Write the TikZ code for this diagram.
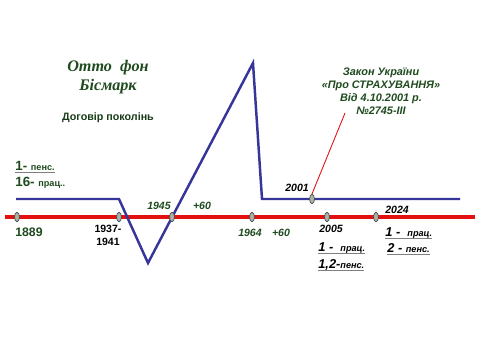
\documentclass[tikz,border=0pt]{standalone}
\usepackage{fontspec}
\setmainfont{Liberation Sans}
\newfontfamily\bisfont{Liberation Serif}
\usepackage{xcolor}
\definecolor{lineblue}{HTML}{35359A}
\definecolor{axisred}{HTML}{E31010}
\definecolor{darkgreen}{HTML}{1E4A1E}
\definecolor{ulgray}{HTML}{7F7F7F}
\definecolor{markfill}{HTML}{A8B4A8}
\usetikzlibrary{shapes.geometric, positioning, calc}
\newcommand{\gul}[1]{\setbox0\hbox{#1}\rlap{\color{ulgray}\rule[-1.6pt]{\wd0}{0.7pt}}\box0}

\begin{document}
\begin{tikzpicture}[x=0.02cm, y=-0.02cm]
  \tikzstyle{yearmark}=[ellipse, draw=black!70, fill=markfill, line width=0.4pt,
    minimum width=2.8pt, minimum height=5.4pt, inner sep=0pt]
  \tikzstyle{yeartxt}=[font=\fontsize{6}{7}\selectfont\bfseries\itshape, inner sep=0pt]
  \tikzstyle{ratiotxt}=[font=\bfseries, inner sep=0pt, anchor=west]
  \useasboundingbox (0,0) rectangle (480,360);
  % time axis
  \draw[axisred, line width=2.2pt] (5,217) coordinate (axl) -- (475,217) coordinate (axr);
  % pension curve
  \draw[lineblue, line width=1.4pt] (16,199) -- (119,199) -- (148,263) -- (253,63)
    -- (262,199) -- (460,199);
  \node[yearmark] (m1889) at (17,217) {};
  \node[yearmark] (m1937) at (119,217) {};
  \node[yearmark] (m1945) at (172,217) {};
  \node[yearmark] (m1964) at (252,217) {};
  \node[yearmark] (m2005) at (327,217) {};
  \node[yearmark] (m2024) at (376,217) {};
  % titles
  \node[font=\bisfont\fontsize{9.2}{10.6}\selectfont\bfseries\itshape, text=darkgreen,
    align=center, inner sep=0pt] (bismarck) at (108,77) {Отто\ \ фон\\Бісмарк};
  \node[font=\fontsize{6.1}{7}\selectfont\bfseries, text=darkgreen!80!black,
    inner sep=0pt] (dogovir) at (108,118) {Договір поколінь};
  \node[font=\fontsize{6.2}{7.4}\selectfont\bfseries\itshape, text=darkgreen,
    align=center, inner sep=0pt] (law) at (381,91)
    {Закон України\\«Про СТРАХУВАННЯ»\\Від 4.10.2001 р.\\№2745-III};
  \coordinate (lawtip) at (345,113);
  \node[yearmark] (m2001) at (312,199) {};
  \draw[axisred, line width=0.5pt] (m2001.north) -- (lawtip);
  % left ratio
  \node[ratiotxt, text=darkgreen] (r1pens) at (15,167)
    {\gul{\fontsize{7.6}{9}\selectfont 1- {\fontsize{5.2}{6}\selectfont пенс.}}};
  \node[ratiotxt, text=darkgreen] (r16prac) at (15,183)
    {\fontsize{7.6}{9}\selectfont 16- {\fontsize{5.2}{6}\selectfont прац..}};
  % years
  \node[font=\fontsize{7}{8}\selectfont\bfseries, text=darkgreen, inner sep=0pt]
    (y1889) at (29,232) {1889};
  \node[font=\fontsize{6}{7.3}\selectfont\bfseries, align=center, inner sep=0pt]
    (y1937) at (108,235) {1937-\\1941};
  \node[yeartxt, text=darkgreen] (y1945) at (159,206) {1945};
  \node[yeartxt, text=darkgreen] (p1945) at (202,206) {+60};
  \node[yeartxt, text=darkgreen] (y1964) at (250,233) {1964};
  \node[yeartxt, text=darkgreen] (p1964) at (281,233) {+60};
  \node[yeartxt] (y2001) at (297,188) {2001};
  \node[yeartxt] (y2005) at (331,229) {2005};
  \node[yeartxt] (y2024) at (397,210) {2024};
  % ratios after reform
  \node[ratiotxt, font=\bfseries\itshape] (r2005a) at (318,248)
    {\gul{\fontsize{7.3}{8}\selectfont 1 - \ {\fontsize{5.2}{6}\selectfont прац.}}};
  \node[ratiotxt, font=\bfseries\itshape] (r2005b) at (318,265)
    {\gul{\fontsize{7.3}{8}\selectfont 1,2-{\fontsize{5.2}{6}\selectfont пенс.}}};
  \node[ratiotxt, font=\bfseries\itshape] (r2024a) at (385,233)
    {\gul{\fontsize{7.3}{8}\selectfont 1 - \ {\fontsize{5.2}{6}\selectfont прац.}}};
  \node[ratiotxt, font=\bfseries\itshape] (r2024b) at (387,249)
    {\gul{\fontsize{7.3}{8}\selectfont 2 - {\fontsize{5.2}{6}\selectfont пенс.}}};
\end{tikzpicture}
\end{document}
